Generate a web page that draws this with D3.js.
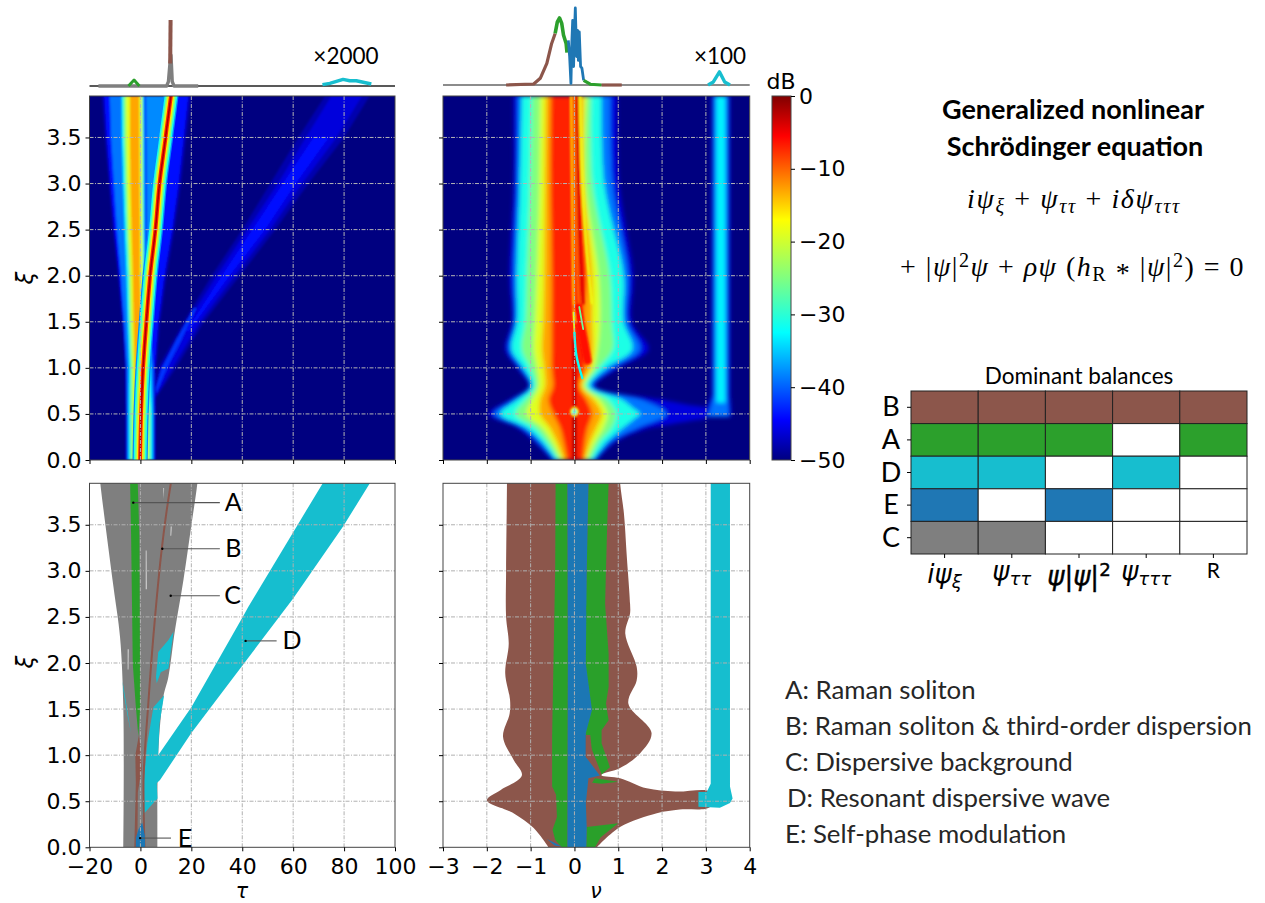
<!DOCTYPE html>
<html>
<head>
<meta charset="utf-8">
<script src="https://cdn.jsdelivr.net/npm/d3@7"></script>
<style>
body { margin: 0; background: #fff; }
text { fill: #000; }
.tick text { font-family: "DejaVu Sans"; font-size: 22px; }
.lato { font-family: Lato; }
</style>
</head>
<body>
<script>
// jet colormap anchors in dB
var jetDb = [-50, -44.5, -32.5, -25, -17, -5.5, 0];
var jetColors = ["#000080", "#0000ff", "#00ffff", "#80ff80", "#ffff00", "#ff0000", "#800000"];
var colorbarTicks = [0, -10, -20, -30, -40, -50];

var tauTicks = [-20, 0, 20, 40, 60, 80, 100];
var nuTicks = [-3, -2, -1, 0, 1, 2, 3, 4];
var xiTicks = [0, 0.5, 1, 1.5, 2, 2.5, 3, 3.5];
var xiMax = 3.95;

var brown = "#8c564b", green = "#2ca02c", cyan = "#17becf", blue = "#1f77b4", grey = "#7f7f7f";

// ---- top left heatmap, tau edges at each xi
var xiT = [0, 0.5, 1, 1.5, 2, 2.5, 3, 3.5, 3.95];
var envLo48 = [-5.9, -5.9, -6.1, -7.2, -8.8, -10.8, -12.4, -14, -15.2];
var envHi48 = [6, 6, 6.2, 7.8, 10.3, 13.4, 16, 18, 20];
var envLo44 = [-5.5, -5.5, -5.7, -6.8, -8.3, -10.2, -11.8, -13.2, -14.2];
var envHi44 = [5.6, 5.6, 5.6, 7, 9.4, 12.5, 15, 17, 18.8];
var wedgeLo40 = [-5.2, -5.2, -5.4, -6.4, -7.6, -9.2, -10.4, -11.5, -12];
var wedgeHi40 = [5.2, 5.2, 5, 3.4, 2.2, 1.9, 1.8, 1.7, 1.6];
var coreLo32 = [-4.6, -4.6, -4.4, -5, -5.5, -6.2, -6.8, -7.3, -7.4];
var coreHi32 = [4.7, 4.7, 4, 2.9, 1.7, 1.5, 1.4, 1.3, 1.2];
var coreLo25 = [-3.9, -3.9, -3.8, -4.4, -4.7, -5.4, -6, -6.5, -6.7];
var coreHi25 = [3.9, 3.9, 2.8, 2.1, 1.2, 1, 0.9, 0.9, 0.8];
var coreLo19 = [-3, -3, -3, -3.6, -4, -4.6, -5.1, -5.5, -5.7];
var coreHi19 = [3, 3, 1.8, 1.2, 0.7, 0.6, 0.5, 0.5, 0.5];
var coreLo13 = [-2, -2, -2.2, -2.7, -3, -3.5, -3.9, -4.1, -4.1];
var coreHi13 = [1.8, 1.8, 0.8, 0.3, -0.2, -0.2, -0.3, -0.4, -0.5];

var xiCoreLow = [0, 0.5, 1];
var coreLowLo = [-1.4, -1.4, -1.2];
var coreLowHi = [1.2, 1.2, 0.6];

var xiWedge = [1.9, 2.5, 3, 3.5, 3.95];
var wedgeRightLo = [3, 2.6, 2.4, 2.3, 2.2];
var wedgeRightHi = [3, 5.5, 7.5, 9, 10.5];

var solitonCenter = [-0.1, 0.25, 1.05, 2.35, 3.8, 5.9, 7.5, 9.9, 12];
var solitonDb = [-38, -31, -24, -16, -7, -2];
var solitonHalf = [3, 2.5, 1.9, 1.3, 0.75, 0.3];

var xiDw = [0.65, 1, 1.5, 2, 2.5, 3, 3.5, 3.95];
var dwLo48 = [4.5, 7, 17, 28, 40, 51, 62, 72.5];
var dwHi48 = [5.5, 14, 25, 39, 53, 66, 80, 90];
var dwLo46 = [4.8, 8, 18.5, 30, 42, 54, 65, 75];
var dwHi46 = [5.2, 12.5, 23.5, 37, 51, 63.5, 77, 87];
var xiDwMid = [1.4, 2, 2.5, 3, 3.5];
var dwLo44 = [18, 32, 44, 56, 68];
var dwHi44 = [19, 35, 49, 61, 74];
var xiDwLow = [0.68, 1, 1.3, 1.65];
var dwLowLo = [5, 8.5, 14, 21];
var dwLowHi = [5.5, 10.5, 16, 22];

// ---- top right heatmap, nu edges at each xi
var xiN = [0, 0.2, 0.35, 0.5, 0.65, 0.8, 1, 1.2, 1.5, 2, 3, 3.95];
var nuLo46 = [-0.52, -0.93, -1.31, -1.96, -1.5, -1.05, -1.31, -1.58, -1.43, -1.48, -1.39, -1.39];
var nuHi46 = [0.51, 0.96, 1.72, 3.02, 1.95, 0.48, 1.02, 1.69, 1.31, 1.34, 1.02, 0.98];
var nuLo39 = [-0.46, -0.84, -1.2, -1.83, -1.4, -1.01, -1.24, -1.5, -1.37, -1.39, -1.31, -1.29];
var nuHi39 = [0.47, 0.85, 1.45, 2.1, 1.55, 0.42, 0.88, 1.5, 1.21, 1.23, 0.87, 0.82];
var nuLo31 = [-0.42, -0.74, -1.09, -1.69, -1.31, -0.97, -1.16, -1.43, -1.31, -1.31, -1.24, -1.2];
var nuHi31 = [0.42, 0.74, 1.1, 1.4, 1.1, 0.35, 0.72, 1.32, 1.12, 1.12, 0.68, 0.62];
var nuLo25 = [-0.36, -0.63, -0.9, -1.35, -1.12, -0.9, -1.01, -1.2, -1.12, -1.09, -1.01, -0.97];
var nuHi25 = [0.36, 0.58, 0.85, 0.95, 0.76, 0.28, 0.55, 0.87, 0.85, 0.81, 0.41, 0.38];
var nuLo19 = [-0.3, -0.52, -0.74, -1.09, -0.97, -0.82, -0.86, -0.93, -0.9, -0.86, -0.8, -0.78];
var nuHi19 = [0.28, 0.47, 0.66, 0.75, 0.58, 0.22, 0.44, 0.53, 0.58, 0.55, 0.25, 0.27];
var nuLo13 = [-0.24, -0.4, -0.56, -0.78, -0.78, -0.67, -0.69, -0.74, -0.71, -0.69, -0.67, -0.65];
var nuHi13 = [0.24, 0.36, 0.5, 0.62, 0.45, 0.17, 0.36, 0.42, 0.4, 0.4, 0.2, 0.2];
var nuLo7 = [-0.17, -0.25, -0.33, -0.48, -0.59, -0.49, -0.52, -0.52, -0.52, -0.52, -0.55, -0.54];
var nuHi7 = [0.2, 0.24, 0.3, 0.4, 0.28, 0.1, 0.24, 0.3, 0.2, 0.28, 0.14, 0.1];

var xiTail = [0.35, 0.42, 0.46, 0.5, 0.56, 0.6, 0.66];
var tailLo = [0.5, 0.5, 0.5, 0.5, 0.5, 0.5, 0.5];
var tailHi46 = [1.72, 2.6, 3.02, 3.06, 3.02, 2.6, 1.95];
var tailHi39 = [1.45, 1.9, 2.2, 2.35, 2.2, 1.85, 1.45];
var tailHi31 = [1.1, 1.3, 1.4, 1.5, 1.35, 1.2, 1];

var xiRdw = [0.47, 0.55, 0.7, 3.95];
var rdwLo46 = [2.9, 3, 3.13, 3.13];
var rdwHi46 = [3.58, 3.58, 3.55, 3.55];
var rdwLo39 = [3.05, 3.1, 3.18, 3.18];
var rdwHi39 = [3.52, 3.52, 3.5, 3.5];
var xiRdwCore = [0.62, 3.95];
var rdwLo33 = [3.24, 3.24];
var rdwHi33 = [3.44, 3.44];

// streaks: [nu, xi]
var softStreaks = [
  { db: -16, w: 2, pts: [[-0.08, 3.95], [-0.04, 2.32], [-0.02, 1.7], [0, 1.5]] },
  { db: -11, w: 2, pts: [[-0.01, 3.95], [0.05, 2.32], [0.1, 1.7], [0.16, 1.45]] },
  { db: -4, w: 2.5, pts: [[0.05, 3.95], [0.13, 2.32], [0.2, 1.7]] },
  { db: -18, w: 2.5, pts: [[0.13, 3.95], [0.27, 2.32], [0.4, 1.7]] },
  { db: -6, w: 8, pts: [[0.07, 1.66], [0.18, 1.38], [0.3, 1.08]] },
  { db: -2, w: 4, pts: [[0, 0], [0, 0.46]] },
  { db: -3, w: 3.5, pts: [[0, 0.58], [-0.01, 1.3]] }
];
var thinStreaks = [
  { db: -26, w: 1.8, pts: [[0.11, 1.66], [0.2, 1.42]] },
  { db: -19, w: 1.8, pts: [[-0.02, 1.6], [0, 1.38]] },
  { db: -32, w: 2.4, pts: [[0, 1.38], [0.05, 1.12], [0.18, 0.89]] }
];
var spotNu = [0], spotXi = [0.524];

// ---- bottom left regions, [tau, xi]
var greyRegion = [[-6.7, 0], [-6.7, 1.49], [-8, 2.28], [-10.6, 2.83], [-15.8, 3.96], [-17, 4.3], [23.5, 4.3], [22.4, 3.96], [20.1, 3.51], [16.9, 2.9], [13.6, 2.36], [11, 1.85], [9, 1.63], [7, 1.02], [6.7, 0]];
var greyHoles = [
  [[2.1, 3.22], [2.4, 3.22], [2.5, 2.8], [2.1, 2.8]],
  [[11.9, 3.48], [12.3, 3.48], [12.1, 3.38], [11.8, 3.38]],
  [[-5, 2.15], [-4.6, 2.15], [-4.7, 1.93], [-5, 1.93]],
  [[6.1, 1.34], [6.4, 1.34], [6.3, 1.08], [6, 1.08]],
  [[9, 3.9], [9.3, 3.9], [9.2, 3.78]]
];
var greenTau = [[-4.05, 3.96], [-1.05, 3.96], [-0.4, 3.37], [-0.13, 1.99], [0, 1.56], [-0.8, 1.2], [-1.9, 1.56], [-3, 1.99], [-3.66, 3.37]];
var brownLine = [[1.6, 0], [1.2, 0.66], [3.1, 1.56], [5.75, 2.5], [8.4, 3.24], [10.3, 3.65], [12, 3.96]];
var brownBlob = [[-2.4, 0], [-1.2, 0], [-1, 0.6], [0.5, 0.85], [0, 1.1], [-0.6, 1.22], [-2, 1], [-1.8, 0.7]];
var cyanPatches = [
  [[13, 2.34], [11, 2.25], [7, 2.12], [6.1, 1.85], [6.4, 1.78], [8, 1.9], [11, 1.94]],
  [[9.3, 1.65], [5.1, 1.52], [2.7, 1.13], [1, 0.62], [0.9, 0.35], [6.7, 0.53], [6.4, 0.7], [7, 1.02], [7.5, 1.34]],
  [[-7, 1.8], [-6, 1.63], [-3.7, 1.24], [-5.2, 1.45], [-6.7, 1.7]]
];
var blueE = [[-1.8, 0], [1.8, 0], [1.8, 0.12], [0.7, 0.27], [-0.8, 0.19], [-1.8, 0.1]];
var cyanD = [[5.75, 0.95], [20, 1.52], [41, 2.54], [42.4, 2.61], [71.8, 3.96], [90.3, 3.96], [79.6, 3.48], [60, 2.7], [39.7, 1.96], [20, 1.24], [7.7, 0.73], [5.75, 0.68]];

var annoLabels = ["A", "B", "C", "D", "E"];
var annoTau = [-2.8, 8.6, 11.9, 41.3, -0.1];
var annoXi = [3.74, 3.24, 2.73, 2.24, 0.1];
var annoEnd = [31.2, 31.2, 31.2, 53.5, 12];
var annoText = [36.5, 36.5, 36.2, 59.5, 17.5];

// ---- bottom right regions, [nu, xi]
var brownNu = [[-0.59, 0], [-0.93, 0.21], [-1.39, 0.37], [-2, 0.51], [-1.69, 0.62], [-1.2, 0.78], [-1.39, 0.95], [-1.63, 1.2], [-1.48, 1.45], [-1.47, 1.6], [-1.58, 1.89], [-1.5, 2.21], [-1.56, 2.5], [-1.56, 3], [-1.54, 3.96], [-1.54, 4.3], [1, 4.3], [1.04, 3.96], [1.13, 3.62], [1.19, 3.19], [1.27, 2.64], [1.27, 2.54], [1.16, 2.32], [1.42, 1.96], [1.42, 1.81], [1.23, 1.56], [1.76, 1.24], [1.5, 1.02], [1.04, 0.86], [0.62, 0.79], [0.62, 0.78], [1.04, 0.75], [1.65, 0.64], [2.3, 0.605], [3.1, 0.6], [3.1, 0.44], [2.4, 0.41], [1.88, 0.37], [1.04, 0.22], [0.51, 0]];
var greenNuLeft = [[-0.43, 3.96], [-0.44, 3], [-0.48, 1.99], [-0.51, 1.2], [-0.51, 0.66], [-0.42, 0.57], [-0.4, 0.33], [-0.5, 0.19], [-0.44, 0.08], [-0.29, 0], [-0.16, 0], [-0.15, 1.99], [-0.16, 3.96]];
var greenNuRight = [[0.32, 3.96], [0.78, 3.96], [0.74, 3.37], [0.7, 2.64], [0.78, 2.1], [0.78, 1.74], [0.72, 1.56], [0.78, 1.38], [0.62, 1.27], [0.62, 1.13], [0.81, 0.87], [0.62, 0.79], [0.2, 1.3]];
var greenNuLow1 = [[0.47, 0.75], [1, 0.71], [0.62, 0.69], [0.4, 0.7]];
var greenNuLow2 = [[0.28, 0.22], [1, 0.26], [0.6, 0.11], [0.47, 0], [0.27, 0]];
var blueNu = [[-0.16, 0], [-0.15, 1.99], [-0.16, 3.96], [0.32, 3.96], [0.28, 3], [0.26, 1.99], [0.4, 1.49], [0.26, 1.24], [0.26, 0.98], [0.58, 0.78], [0.32, 0.75], [0.26, 0.48], [0.28, 0.22], [0.27, 0]];
var brownNuInner = [[0.26, 1.22], [0.36, 1.22], [0.43, 0.91], [0.26, 0.98]];
var blueSliver = [[-0.63, 0.09], [-0.29, 0.01], [-0.45, 0.02]];
var blueStreak = [[0.26, 2.64], [0.36, 2.25], [0.42, 2.27], [0.32, 2.53]];
var cyanRdw = [[3.11, 3.96], [3.11, 0.69], [3.02, 0.6], [2.83, 0.6], [2.83, 0.44], [3.32, 0.43], [3.55, 0.48], [3.61, 0.53], [3.55, 0.66], [3.55, 3.96]];

// ---- inset profiles, [x, height]
var tauGrey = [[-16.5, 0], [10.3, 0], [11, 0.065], [11.6, 0.34], [12, 0.47], [12.5, 0.065], [13.2, 0], [22.7, 0]];
var tauGreen = [[-4.7, 0], [-2.5, 0.09], [-0.4, 0]];
var tauBrown = [[11.7, 0.34], [11.85, 1]];
var tauCyan = [[71.5, 0.02], [74.4, 0.04], [79.6, 0.1], [82.2, 0.08], [84.8, 0.08], [90.7, 0.03]];
var nuBrownA = [[-1.56, 0], [-0.93, 0.013], [-0.78, 0.087], [-0.63, 0.28], [-0.52, 0.54], [-0.44, 0.67]];
var nuGreenA = [[-0.44, 0.67], [-0.39, 0.82], [-0.34, 0.87], [-0.29, 0.8], [-0.25, 0.65], [-0.19, 0.54], [-0.17, 0.42]];
var nuBlue = [[-0.14, 0.58], [-0.11, 0.37], [-0.08, 0.02], [-0.06, 0.55], [-0.04, 0.84], [-0.02, 0.24], [0, 0.67], [0.02, 1], [0.05, 0.37], [0.07, 0.71], [0.09, 0.32], [0.11, 0.69], [0.14, 0.24], [0.17, 0.22], [0.21, 0.06]];
var nuGreenB = [[0.21, 0.06], [0.36, 0.01], [0.62, 0]];
var nuBrownB = [[0.62, 0], [1.08, 0]];
var nuCyan = [[3.05, 0], [3.17, 0.04], [3.31, 0.17], [3.43, 0.04], [3.55, 0]];

// ---- balance table
var balanceRows = ["B", "A", "D", "E", "C"];
var balanceColors = [brown, green, cyan, blue, grey];
var balanceCols = ["t", "tt", "nl", "ttt", "R"];
var balanceOn = [[1, 1, 1, 1, 1], [1, 1, 1, 0, 1], [1, 1, 0, 1, 0], [1, 0, 1, 0, 0], [1, 1, 0, 0, 0]];

var legendLines = ["A: Raman soliton", "B: Raman soliton & third-order dispersion", "C: Dispersive background", "D: Resonant dispersive wave", "E: Self-phase modulation"];
var legendX = [785, 785, 785, 787, 785];
var legendY = [699, 735, 771, 807, 843];

var svg = d3.select("body").append("svg").attr("width", 1265).attr("height", 903).style("display", "block");
var jet = d3.scaleLinear().domain(jetDb).range(jetColors).clamp(true);

var xTauT = d3.scaleLinear().domain([-20, 100]).range([89.5, 395]);
var xNuT = d3.scaleLinear().domain([-3, 4]).range([443, 749.7]);
var yTop = d3.scaleLinear().domain([0, xiMax]).range([460, 96]);
var yBot = d3.scaleLinear().domain([0, xiMax]).range([847.3, 483.3]);

var defs = svg.append("defs");
defs.append("filter").attr("id", "soft").attr("x", "-5%").attr("y", "-5%").attr("width", "110%").attr("height", "110%")
  .append("feGaussianBlur").attr("stdDeviation", 2);
defs.append("filter").attr("id", "softer").attr("x", "-5%").attr("y", "-5%").attr("width", "110%").attr("height", "110%")
  .append("feGaussianBlur").attr("stdDeviation", 0.8);
defs.append("filter").attr("id", "fine").attr("x", "-5%").attr("y", "-5%").attr("width", "110%").attr("height", "110%")
  .append("feGaussianBlur").attr("stdDeviation", 0.45);
var clips = [["clipTau", xTauT, yTop], ["clipNu", xNuT, yTop], ["clipTauB", xTauT, yBot], ["clipNuB", xNuT, yBot]];
clips.forEach(function (c) {
  defs.append("clipPath").attr("id", c[0]).append("rect")
    .attr("x", c[1].range()[0]).attr("y", c[2].range()[1])
    .attr("width", c[1].range()[1] - c[1].range()[0])
    .attr("height", c[2].range()[0] - c[2].range()[1]);
});
var grad = defs.append("linearGradient").attr("id", "jetbar").attr("x1", "0%").attr("y1", "100%").attr("x2", "0%").attr("y2", "0%");
jetDb.forEach(function (d) {
  grad.append("stop").attr("offset", ((d + 50) / 50 * 100) + "%").attr("stop-color", jet(d));
});

function band(g, sx, sy, xis, lo, hi, db, curve) {
  var area = d3.area()
    .x0(function (i) { return sx(lo[i]); })
    .x1(function (i) { return sx(hi[i]); })
    .y(function (i) { return sy(xis[i]); });
  if (curve) area.curve(curve);
  g.append("path").attr("d", area(d3.range(xis.length))).attr("fill", jet(db));
}
function region(g, sx, sy, pts, color, curve) {
  var line = d3.line().x(function (d) { return sx(d[0]); }).y(function (d) { return sy(d[1]); });
  if (curve) line.curve(curve);
  g.append("path").attr("d", line(pts) + "Z").attr("fill", color);
}
var smooth = d3.curveCatmullRom.alpha(0.5);

// top left heatmap
var hTau = svg.append("g").attr("clip-path", "url(#clipTau)");
hTau.append("rect").attr("x", 89.5).attr("y", 96).attr("width", 305.5).attr("height", 364).attr("fill", jet(-50));
var hTauSoft = hTau.append("g").attr("filter", "url(#softer)");
band(hTauSoft, xTauT, yTop, xiDw, dwLo48, dwHi48, -48);
band(hTauSoft, xTauT, yTop, xiDw, dwLo46, dwHi46, -46);
band(hTauSoft, xTauT, yTop, xiDwMid, dwLo44, dwHi44, -44);
band(hTauSoft, xTauT, yTop, xiDwLow, dwLowLo, dwLowHi, -42);
band(hTauSoft, xTauT, yTop, xiT, envLo48, envHi48, -48);
band(hTauSoft, xTauT, yTop, xiT, envLo44, envHi44, -44);
band(hTauSoft, xTauT, yTop, xiT, wedgeLo40, wedgeHi40, -39);
band(hTauSoft, xTauT, yTop, xiWedge, wedgeRightLo, wedgeRightHi, -38);
band(hTauSoft, xTauT, yTop, xiT, coreLo32, coreHi32, -33);
band(hTauSoft, xTauT, yTop, xiT, coreLo25, coreHi25, -25);
band(hTauSoft, xTauT, yTop, xiT, coreLo19, coreHi19, -19);
band(hTauSoft, xTauT, yTop, xiT, coreLo13, coreHi13, -13);
band(hTauSoft, xTauT, yTop, xiCoreLow, coreLowLo, coreLowHi, -9);
var hTauFine = hTau.append("g").attr("filter", "url(#fine)");
solitonDb.forEach(function (db, k) {
  band(hTauFine, xTauT, yTop, xiT,
    solitonCenter.map(function (c) { return c - solitonHalf[k]; }),
    solitonCenter.map(function (c) { return c + solitonHalf[k]; }), db, smooth);
});

// top right heatmap
var hNu = svg.append("g").attr("clip-path", "url(#clipNu)");
hNu.append("rect").attr("x", 443).attr("y", 96).attr("width", 306.7).attr("height", 364).attr("fill", jet(-50));
var hNuSoft = hNu.append("g").attr("filter", "url(#soft)");
band(hNuSoft, xNuT, yTop, xiRdw, rdwLo46, rdwHi46, -46);
band(hNuSoft, xNuT, yTop, xiRdw, rdwLo39, rdwHi39, -39);
band(hNuSoft, xNuT, yTop, xiRdwCore, rdwLo33, rdwHi33, -33);
band(hNuSoft, xNuT, yTop, xiTail, tailLo, tailHi46, -46, smooth);
band(hNuSoft, xNuT, yTop, xiTail, tailLo, tailHi39, -39, smooth);
band(hNuSoft, xNuT, yTop, xiN, nuLo46, nuHi46, -46, smooth);
band(hNuSoft, xNuT, yTop, xiN, nuLo39, nuHi39, -39, smooth);
band(hNuSoft, xNuT, yTop, xiTail, tailLo, tailHi31, -31, smooth);
band(hNuSoft, xNuT, yTop, xiN, nuLo31, nuHi31, -31, smooth);
band(hNuSoft, xNuT, yTop, xiN, nuLo25, nuHi25, -25, smooth);
band(hNuSoft, xNuT, yTop, xiN, nuLo19, nuHi19, -19, smooth);
band(hNuSoft, xNuT, yTop, xiN, nuLo13, nuHi13, -13, smooth);
band(hNuSoft, xNuT, yTop, xiN, nuLo7, nuHi7, -7, smooth);
var streakLine = d3.line().curve(d3.curveMonotoneY).x(function (d) { return xNuT(d[0]); }).y(function (d) { return yTop(d[1]); });
function drawStreaks(g, list) {
  list.forEach(function (s) {
    g.append("path").attr("d", streakLine(s.pts)).attr("fill", "none").attr("stroke", jet(s.db))
      .attr("stroke-width", s.w).attr("stroke-linecap", "round");
  });
}
var hNuMid = hNu.append("g").attr("filter", "url(#softer)");
drawStreaks(hNuMid, softStreaks);
hNuMid.append("circle").attr("cx", xNuT(spotNu[0])).attr("cy", yTop(spotXi[0])).attr("r", 4.5).attr("fill", jet(-18));
hNuMid.append("circle").attr("cx", xNuT(spotNu[0])).attr("cy", yTop(spotXi[0])).attr("r", 2.2).attr("fill", jet(-33));
drawStreaks(hNu.append("g"), thinStreaks);

// bottom left regions
var rTau = svg.append("g").attr("clip-path", "url(#clipTauB)").append("g").attr("filter", "url(#fine)");
region(rTau, xTauT, yBot, greyRegion, grey, smooth);
greyHoles.forEach(function (p) { region(rTau, xTauT, yBot, p, "#ddd"); });
cyanPatches.forEach(function (p) { region(rTau, xTauT, yBot, p, cyan); });
region(rTau, xTauT, yBot, greenTau, green);
region(rTau, xTauT, yBot, brownBlob, brown);
rTau.append("path").attr("d", d3.line().curve(d3.curveMonotoneY).x(function (d) { return xTauT(d[0]); }).y(function (d) { return yBot(d[1]); })(brownLine))
  .attr("fill", "none").attr("stroke", brown).attr("stroke-width", 2);
region(rTau, xTauT, yBot, blueE, blue);
region(rTau, xTauT, yBot, cyanD, cyan);

// bottom right regions
var rNu = svg.append("g").attr("clip-path", "url(#clipNuB)").append("g").attr("filter", "url(#fine)");
region(rNu, xNuT, yBot, brownNu, brown, smooth);
region(rNu, xNuT, yBot, greenNuLeft, green);
region(rNu, xNuT, yBot, greenNuRight, green);
region(rNu, xNuT, yBot, greenNuLow1, green);
region(rNu, xNuT, yBot, greenNuLow2, green);
region(rNu, xNuT, yBot, blueNu, blue);
region(rNu, xNuT, yBot, brownNuInner, brown);
region(rNu, xNuT, yBot, blueSliver, blue);
region(rNu, xNuT, yBot, blueStreak, green);
region(rNu, xNuT, yBot, cyanRdw, cyan);

// grids + axes
function gridAndAxes(sx, sy, xTicks, showX, showY, gridColor) {
  var g = svg.append("g");
  var gridX = xTicks.slice(1, -1);
  g.selectAll(".gx").data(gridX).enter().append("line")
    .attr("x1", sx).attr("x2", sx).attr("y1", sy.range()[1]).attr("y2", sy.range()[0])
    .attr("stroke", gridColor).attr("stroke-dasharray", "4 1.5 1 1.5");
  g.selectAll(".gy").data(xiTicks.slice(1)).enter().append("line")
    .attr("y1", sy).attr("y2", sy).attr("x1", sx.range()[0]).attr("x2", sx.range()[1])
    .attr("stroke", gridColor).attr("stroke-dasharray", "4 1.5 1 1.5");
  g.append("rect").attr("x", sx.range()[0]).attr("y", sy.range()[1])
    .attr("width", sx.range()[1] - sx.range()[0]).attr("height", sy.range()[0] - sy.range()[1])
    .attr("fill", "none").attr("stroke", "#444");
  var ax = d3.axisBottom(sx).tickValues(xTicks).tickSize(4).tickPadding(7)
    .tickFormat(showX ? function (d) { return String(d).replace("-", "\u2212"); } : "");
  g.append("g").attr("transform", "translate(0," + sy.range()[0] + ")").call(ax);
  var ay = d3.axisLeft(sy).tickValues(xiTicks).tickSize(4).tickPadding(4)
    .tickFormat(showY ? d3.format(".1f") : "");
  g.append("g").attr("transform", "translate(" + sx.range()[0] + ",0)").call(ay);
  g.selectAll(".domain").remove();
}
gridAndAxes(xTauT, yTop, tauTicks, false, true, "#b4b4b4");
gridAndAxes(xNuT, yTop, nuTicks, false, false, "#b4b4b4");
gridAndAxes(xTauT, yBot, tauTicks, true, true, "#b0b0b0");
gridAndAxes(xNuT, yBot, nuTicks, true, false, "#b0b0b0");

// axis titles
function math(x, y, t, size, rot) {
  var el = svg.append("text").attr("x", x).attr("y", y).attr("text-anchor", "middle")
    .style("font-family", "DejaVu Sans").style("font-style", "italic").style("font-size", size + "px").text(t);
  if (rot) el.attr("transform", "rotate(-90," + x + "," + y + ")");
}
math(33, 278, "\u03BE", 23, true);
math(33, 662, "\u03BE", 23, true);
math(242, 898, "\u03C4", 20.5);
math(596, 898, "\u03BD", 20.5);

// annotations
var ann = svg.append("g");
annoLabels.forEach(function (l, i) {
  var y = yBot(annoXi[i]);
  ann.append("line").attr("x1", xTauT(annoTau[i])).attr("x2", xTauT(annoEnd[i])).attr("y1", y).attr("y2", y)
    .attr("stroke", "#555").attr("stroke-width", 1.1);
  ann.append("circle").attr("cx", xTauT(annoTau[i])).attr("cy", y).attr("r", 1.2).attr("fill", "#000");
  ann.append("text").attr("class", "lato").attr("x", xTauT(annoText[i])).attr("y", y + 8.5)
    .attr("text-anchor", "middle").style("font-size", "25px").text(l);
});

// insets
var yInsL = d3.scaleLinear().domain([0, 1]).range([86, 20]);
var yInsR = d3.scaleLinear().domain([0, 1]).range([85, 8]);
function profile(sx, sy, pts, color, w) {
  var line = d3.line().x(function (d) { return sx(d[0]); }).y(function (d) { return sy(d[1]); });
  svg.append("path").attr("d", line(pts)).attr("fill", "none").attr("stroke", color).attr("stroke-width", w).attr("stroke-linejoin", "round");
}
profile(xTauT, yInsL, [[-20, 0], [100, 0]], "#222", 1.3);
profile(xTauT, yInsL, tauGrey, grey, 3.4);
profile(xTauT, yInsL, tauBrown, brown, 4);
profile(xTauT, yInsL, tauGreen, green, 3);
profile(xTauT, yInsL, tauCyan, cyan, 3.4);
profile(xNuT, yInsR, [[-3, 0], [4, 0]], "#666", 1.4);
profile(xNuT, yInsR, nuBrownA, brown, 3.2);
profile(xNuT, yInsR, nuGreenA, green, 3.6);
profile(xNuT, yInsR, nuBlue, blue, 2.8);
profile(xNuT, yInsR, nuGreenB, green, 3.2);
profile(xNuT, yInsR, nuBrownB, brown, 3.2);
profile(xNuT, yInsR, nuCyan, cyan, 3.4);
svg.append("text").attr("class", "lato").attr("x", 346).attr("y", 64).attr("text-anchor", "middle").style("font-size", "22.5px").text("\u00D72000");
svg.append("text").attr("class", "lato").attr("x", 720).attr("y", 64).attr("text-anchor", "middle").style("font-size", "22.5px").text("\u00D7100");

// colorbar
var yBar = d3.scaleLinear().domain([-50, 0]).range([460, 96]);
svg.append("rect").attr("x", 772).attr("y", 96).attr("width", 19).attr("height", 364).attr("fill", "url(#jetbar)").attr("stroke", "#444");
svg.append("g").attr("transform", "translate(791,0)")
  .call(d3.axisRight(yBar).tickValues(colorbarTicks).tickSize(4).tickPadding(4).tickFormat(function (d) { return String(d).replace("-", "\u2212"); }))
  .call(function (g) { g.select(".domain").remove(); });
svg.append("text").attr("x", 781).attr("y", 89).attr("text-anchor", "middle")
  .style("font-family", "DejaVu Sans").style("font-size", "22px").text("dB");

// title + equation
svg.append("text").attr("class", "lato").attr("x", 1073).attr("y", 119).attr("text-anchor", "middle").style("font-size", "27px").style("font-weight", 700).text("Generalized nonlinear");
svg.append("text").attr("class", "lato").attr("x", 1075).attr("y", 156).attr("text-anchor", "middle").style("font-size", "27px").style("font-weight", 700).text("Schr\u00F6dinger equation");

function equation(x, y, size, parts, family, style, spacing) {
  var t = svg.append("text").attr("x", x).attr("y", y).style("font-family", family).style("font-size", size + "px").style("font-style", style);
  if (spacing) t.style("letter-spacing", spacing + "px");
  var shift = 0;
  parts.forEach(function (p) {
    var want = p.dy || 0;
    var s = t.append("tspan").text(p.t).attr("dy", want - shift).style("font-size", (p.s ? size * p.s : size) + "px");
    if (p.up) s.style("font-style", "normal");
    shift = want;
  });
  return t;
}
var sub = function (t) { return { t: t, dy: 5, s: 0.72 }; };
var sup = function (t) { return { t: t, dy: -9, s: 0.72, up: 1 }; };
var up = function (t) { return { t: t, up: 1 }; };
equation(967, 208, 28, [{ t: "i\u03C8" }, sub("\u03BE"), up(" + "), { t: "\u03C8" }, sub("\u03C4\u03C4"), up(" + "), { t: "i\u03B4\u03C8" }, sub("\u03C4\u03C4\u03C4")], "Liberation Serif", "italic", 1.6);
equation(900, 276, 28, [up("+ |"), { t: "\u03C8" }, up("|"), sup("2"), { t: "\u03C8" }, up(" + "), { t: "\u03C1\u03C8" }, up(" ("), { t: "h" }, { t: "R", dy: 5, s: 0.72, up: 1 }, up(" "), { t: "*", dy: 6, up: 1 }, up(" |"), { t: "\u03C8" }, up("|"), sup("2"), up(")  =  0")], "Liberation Serif", "italic", 1.5);

// table
var xTab = d3.scaleBand().domain(balanceCols).range([911, 1247]);
var yTab = d3.scaleBand().domain(balanceRows).range([391, 554]);
var tab = svg.append("g");
balanceRows.forEach(function (r, i) {
  balanceCols.forEach(function (c, j) {
    tab.append("rect").attr("x", xTab(c)).attr("y", yTab(r)).attr("width", xTab.bandwidth()).attr("height", yTab.bandwidth())
      .attr("fill", balanceOn[i][j] ? balanceColors[i] : "#fff").attr("stroke", "#222").attr("stroke-width", 1);
  });
});
tab.append("g").attr("transform", "translate(911,0)").call(d3.axisLeft(yTab).tickSize(4).tickFormat(""))
  .call(function (g) { g.select(".domain").remove(); });
tab.append("g").attr("transform", "translate(0,554)").call(d3.axisBottom(xTab).tickSize(4).tickFormat(""))
  .call(function (g) { g.select(".domain").remove(); });
balanceRows.forEach(function (r) {
  tab.append("text").attr("class", "lato").attr("x", 891).attr("y", yTab(r) + yTab.bandwidth() / 2 + 9).attr("text-anchor", "middle").style("font-size", "27px").text(r);
});
svg.append("text").attr("class", "lato").attr("x", 1079).attr("y", 384).attr("text-anchor", "middle").style("font-size", "22.5px").text("Dominant balances");

function colLabel(c, parts, size, y) {
  var x0 = xTab(c) + xTab.bandwidth() / 2;
  var t = equation(x0, y, size, parts, "DejaVu Sans", "italic");
  t.attr("text-anchor", "middle");
  return t;
}
var colSub = function (t) { return { t: t, dy: 5, s: 0.7 }; };
colLabel("t", [{ t: "i\u03C8" }, colSub("\u03BE")], 26, 583);
colLabel("tt", [{ t: "\u03C8" }, colSub("\u03C4\u03C4")], 26, 580);
colLabel("nl", [{ t: "\u03C8|\u03C8|" }, { t: "2", dy: -9, s: 0.7, up: 1 }], 26, 585).style("stroke", "#000").style("stroke-width", 0.4);
colLabel("ttt", [{ t: "\u03C8" }, colSub("\u03C4\u03C4\u03C4")], 26, 580);
svg.append("text").attr("class", "lato").attr("x", xTab("R") + xTab.bandwidth() / 2).attr("y", 578).attr("text-anchor", "middle").style("font-size", "21px").text("R");

// legend
var legendText = svg.selectAll(".leg").data(legendLines).enter().append("text").attr("class", "lato")
  .attr("x", function (d, i) { return legendX[i]; }).attr("y", function (d, i) { return legendY[i]; })
  .style("font-size", "25.8px").style("fill", "#262626").text(function (d) { return d; });
</script>
</body>
</html>
